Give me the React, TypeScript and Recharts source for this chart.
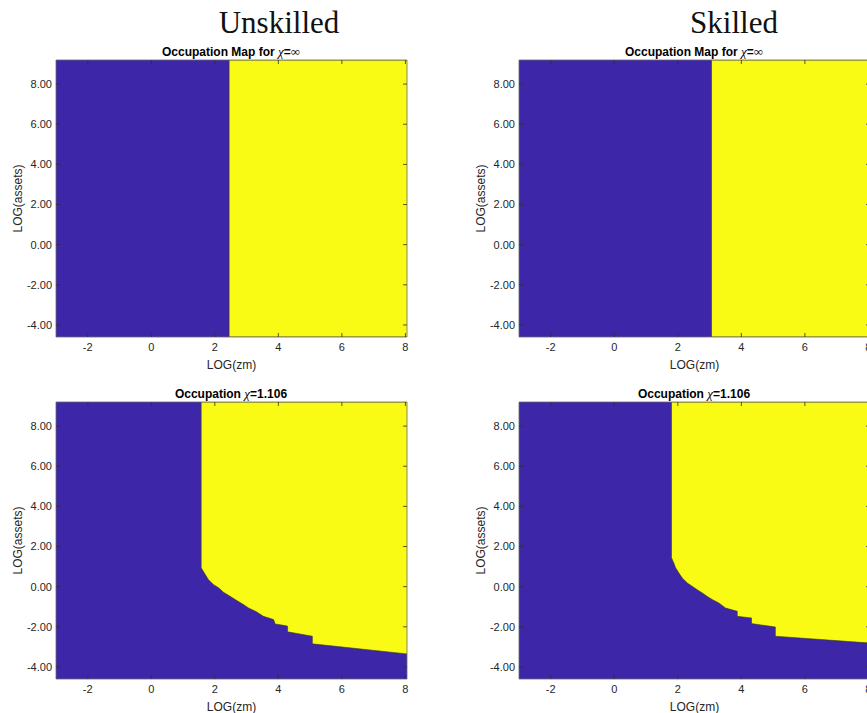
import { Area, CartesianGrid, ComposedChart, ReferenceLine, XAxis, YAxis } from "recharts";

const PURPLE = "#3E26A8";
const YELLOW = "#F9FB15";
const INK = "#262626";
const EDGE = "#3a3a1a";
const SANS = "Liberation Sans, Arial, sans-serif";

// grid extent of the occupation maps
const X_MIN = -3;
const X_MAX = 8.05;
const Y_MIN = -4.6;
const Y_MAX = 9.2;

const xTicks = [-2, 0, 2, 4, 6, 8];
const yTicks = [-4, -2, 0, 2, 4, 6, 8];

// chi = infinity: occupation switches at a fixed LOG(zm)
const cutoffUnskilled = 2.45;
const cutoffSkilled = 3.06;

// chi = 1.106: lower edge of the yellow region, LOG(zm) vs LOG(assets)
const unskilledZm = [1.57, 1.7, 1.8, 1.96, 2.12, 2.27, 2.43, 2.64, 2.9, 3.06, 3.32, 3.53, 3.85, 3.9, 4.21, 4.29, 4.29, 5.07, 5.07, 8.05];
const unskilledAssets = [0.94, 0.6, 0.35, 0.1, -0.06, -0.28, -0.43, -0.64, -0.89, -1.06, -1.26, -1.48, -1.64, -1.86, -1.94, -1.97, -2.25, -2.47, -2.85, -3.35];

const skilledZm = [1.8, 1.87, 1.93, 2.03, 2.14, 2.3, 2.45, 2.61, 2.77, 2.92, 3.08, 3.29, 3.5, 3.87, 3.87, 4.32, 4.32, 5.07, 5.07, 8.05];
const skilledAssets = [1.44, 1.19, 0.94, 0.69, 0.43, 0.18, 0.02, -0.15, -0.31, -0.48, -0.64, -0.81, -1.06, -1.23, -1.48, -1.56, -1.84, -2.01, -2.47, -2.81];

type Pt = { zm: number; band: [number, number] };

const cutoffBand = (cut: number): Pt[] => [
  { zm: cut, band: [Y_MIN, Y_MAX] },
  { zm: X_MAX, band: [Y_MIN, Y_MAX] },
];

const curveBand = (zm: number[], assets: number[]): Pt[] =>
  zm.map((z, i) => ({ zm: z, band: [assets[i], Y_MAX] }));

const tickStyle = { fontSize: 11, fill: INK, fontFamily: SANS };
const boxLine = { stroke: "#6a6a6a", strokeWidth: 0.8 };
const tickLine = { stroke: "#303030", strokeWidth: 0.8 };
const TICK = -4; // negative = ticks point into the plot, MATLAB style

function Panel({ left, top, data }: { left: number; top: number; data: Pt[] }) {
  const first = data[0];
  return (
    <div style={{ position: "absolute", left, top }}>
      <ComposedChart
        width={440}
        height={380}
        data={data}
        margin={{ top: 59, right: 32, bottom: 0, left: 0 }}
      >
        <CartesianGrid horizontal={false} vertical={false} fill={PURPLE} fillOpacity={1} stroke="none" />
        <Area
          type="linear"
          dataKey="band"
          fill={YELLOW}
          fillOpacity={1}
          stroke={EDGE}
          strokeWidth={0.6}
          dot={false}
          activeDot={false}
          isAnimationActive={false}
        />
        {/* vertical left edge of the yellow region */}
        <ReferenceLine
          segment={[
            { x: first.zm, y: first.band[0] },
            { x: first.zm, y: first.band[1] },
          ]}
          stroke={EDGE}
          strokeWidth={0.6}
        />
        <XAxis
          type="number"
          dataKey="zm"
          domain={[X_MIN, X_MAX]}
          ticks={xTicks}
          allowDataOverflow
          height={43}
          tickSize={TICK}
          tickMargin={10}
          tick={tickStyle}
          tickLine={tickLine}
          axisLine={boxLine}
          label={{ value: "LOG(zm)", position: "insideBottom", offset: 11, fontSize: 12, fill: INK, fontFamily: SANS }}
        />
        {/* top and right axes only close the box and carry inner ticks */}
        <XAxis
          xAxisId="t"
          orientation="top"
          type="number"
          dataKey="zm"
          domain={[X_MIN, X_MAX]}
          ticks={xTicks}
          allowDataOverflow
          height={1}
          tickSize={TICK}
          tickFormatter={() => ""}
          tickLine={tickLine}
          axisLine={boxLine}
        />
        <YAxis
          type="number"
          domain={[Y_MIN, Y_MAX]}
          ticks={yTicks}
          allowDataOverflow
          width={56}
          tickSize={TICK}
          tickMargin={8}
          tick={tickStyle}
          tickLine={tickLine}
          axisLine={boxLine}
          tickFormatter={(v: number) => v.toFixed(2)}
          label={{
            value: "LOG(assets)",
            angle: -90,
            position: "insideLeft",
            offset: 18,
            fontSize: 12,
            fill: INK,
            fontFamily: SANS,
            style: { textAnchor: "middle" },
          }}
        />
        <YAxis
          yAxisId="r"
          orientation="right"
          type="number"
          domain={[Y_MIN, Y_MAX]}
          ticks={yTicks}
          allowDataOverflow
          width={1}
          tickSize={TICK}
          tickFormatter={() => ""}
          tickLine={tickLine}
          axisLine={boxLine}
        />
      </ComposedChart>
    </div>
  );
}

const chi = { fontFamily: "Liberation Serif, serif", fontStyle: "italic" as const, fontWeight: 400, fontSize: 13 };
const inf = { fontFamily: "Liberation Serif, serif", fontWeight: 400, fontSize: 13 };

function SubTitle({ cx, top, children }: { cx: number; top: number; children: React.ReactNode }) {
  return (
    <div
      style={{
        position: "absolute",
        left: cx - 150,
        top,
        width: 300,
        textAlign: "center",
        fontFamily: SANS,
        fontWeight: 700,
        fontSize: 12,
        lineHeight: "12px",
        color: "#000",
      }}
    >
      {children}
    </div>
  );
}

function BigTitle({ cx, text }: { cx: number; text: string }) {
  return (
    <div
      style={{
        position: "absolute",
        left: cx - 150,
        top: 7,
        width: 300,
        textAlign: "center",
        fontFamily: "Liberation Serif, serif",
        fontSize: 31,
        lineHeight: "31px",
        color: "#111",
      }}
    >
      {text}
    </div>
  );
}

export default function App() {
  return (
    <div
      style={{
        position: "absolute",
        left: 0,
        top: 0,
        width: 867,
        height: 713,
        overflow: "hidden",
        background: "#fff",
      }}
    >
      <Panel left={0} top={0} data={cutoffBand(cutoffUnskilled)} />
      <Panel left={463} top={0} data={cutoffBand(cutoffSkilled)} />
      <Panel left={0} top={342} data={curveBand(unskilledZm, unskilledAssets)} />
      <Panel left={463} top={342} data={curveBand(skilledZm, skilledAssets)} />

      <BigTitle cx={279} text="Unskilled" />
      <BigTitle cx={734} text="Skilled" />

      <SubTitle cx={231} top={46}>
        Occupation Map for <span style={chi}>χ</span>=<span style={inf}>∞</span>
      </SubTitle>
      <SubTitle cx={694} top={46}>
        Occupation Map for <span style={chi}>χ</span>=<span style={inf}>∞</span>
      </SubTitle>
      <SubTitle cx={231} top={388}>
        Occupation <span style={chi}>χ</span>=1.106
      </SubTitle>
      <SubTitle cx={694} top={388}>
        Occupation <span style={chi}>χ</span>=1.106
      </SubTitle>
    </div>
  );
}
